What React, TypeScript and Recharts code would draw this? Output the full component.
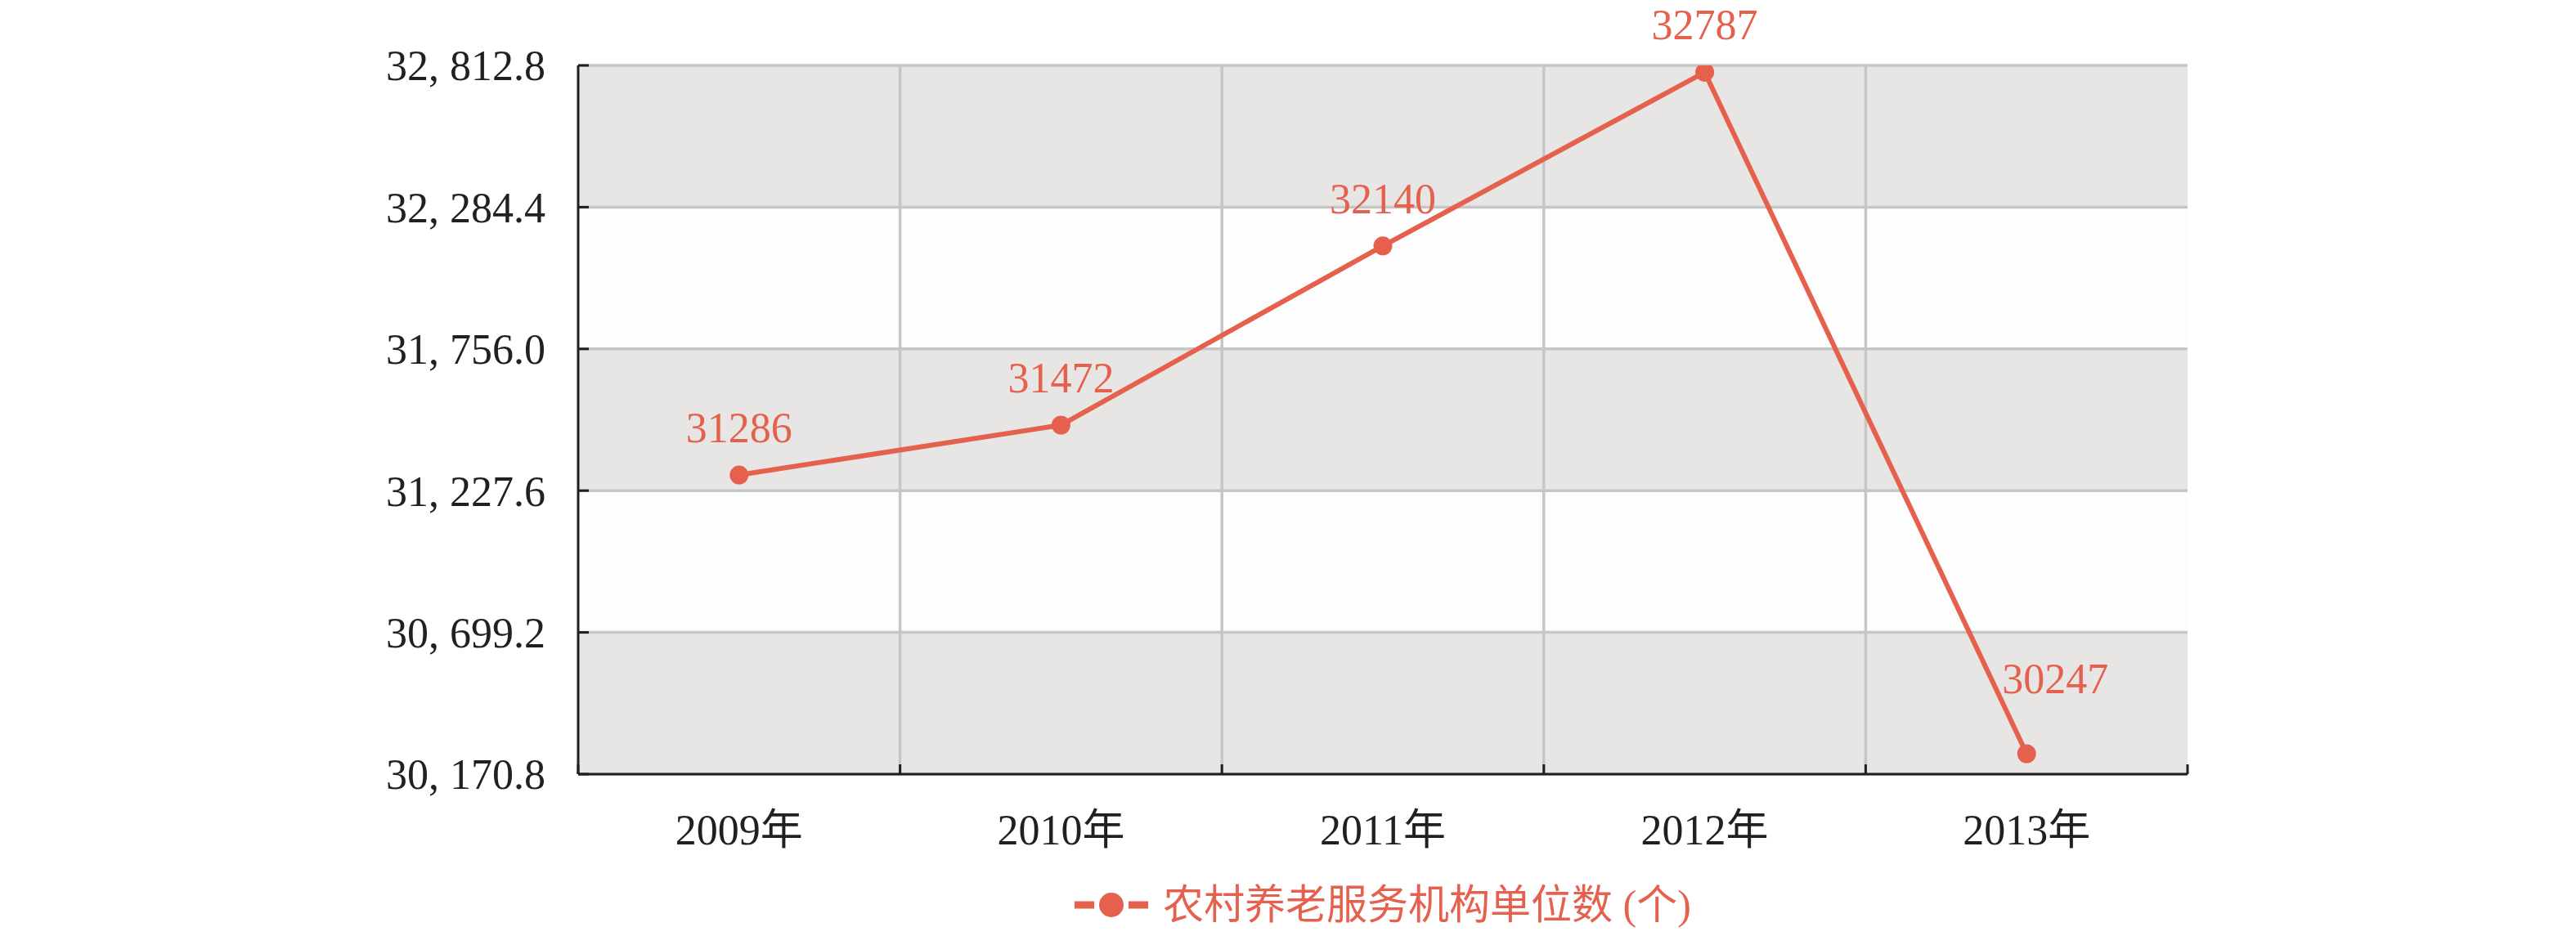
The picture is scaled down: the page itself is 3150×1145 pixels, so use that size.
import React from 'react';
import {
    LineChart,
    Line,
    XAxis,
    YAxis,
    CartesianGrid,
    Legend,
    LabelList
} from 'recharts';

const years = ['2009年', '2010年', '2011年', '2012年', '2013年'];
const institutions = [31286, 31472, 32140, 32787, 30247];
const yTicks = [30170.8, 30699.2, 31227.6, 31756.0, 32284.4, 32812.8];
const seriesName = '农村养老服务机构单位数 (个)';

const RED = '#e5604d';
const INK = '#231f20';
const FONT = "'Liberation Serif', 'Noto Sans CJK SC', serif";
const X_TICK_GAP = 49; // default tickSize 6 + tickMargin 43

const chartData = years.map((year, i) => ({
    year,
    value: institutions[i]
}));

// "32812.8" -> "32, 812.8"
const formatY = (v: number) => {
    const s = v.toFixed(1);
    return s.slice(0, s.length - 5) + ', ' + s.slice(s.length - 5);
};

// inner category boundaries for the vertical grid
const boundaryLines = ({ offset }: any) =>
    years.slice(1).map((_, i) => offset.left + (i + 1) * offset.width / years.length);

// label plus the little tick marks that sit on the category boundaries
const YearTick = (props: any) => {
    const { x, y, payload, index, visibleTicksCount } = props;
    const half = payload.offset || 0;
    const axisY = y - X_TICK_GAP;
    const last = index === visibleTicksCount - 1;
    return (
        <g>
            <line x1={x - half} x2={x - half} y1={axisY} y2={axisY - 12} stroke={INK} strokeWidth={3} />
            {last && <line x1={x + half} x2={x + half} y1={axisY} y2={axisY - 12} stroke={INK} strokeWidth={3} />}
            <text x={x} y={y} dy="0.71em" textAnchor="middle" fill={INK} fontSize={52} fontFamily={FONT}>
                {payload.value}
            </text>
        </g>
    );
};

const PointLabel = (props: any) => {
    const { x, y, value, index } = props;
    const last = index === institutions.length - 1;
    return (
        <text
            x={x + (last ? 35 : 0)}
            y={y - (last ? 74 : 40)}
            textAnchor="middle"
            fill={RED}
            fontSize={52}
            fontFamily={FONT}
        >
            {value}
        </text>
    );
};

const LegendContent = () => (
    <div style={{ height: 118, paddingTop: 52, boxSizing: 'border-box', display: 'flex', justifyContent: 'center' }}>
        <div style={{ display: 'flex', alignItems: 'center', height: 56 }}>
            <svg width={90} height={40} style={{ marginRight: 18 }}>
                <rect x={0} y={15.5} width={24} height={9} fill={RED} />
                <circle cx={45} cy={20} r={15} fill={RED} />
                <rect x={66} y={15.5} width={24} height={9} fill={RED} />
            </svg>
            <span style={{ color: RED, fontSize: 50, fontFamily: FONT, lineHeight: '56px' }}>{seriesName}</span>
        </div>
    </div>
);

const App = () => {
    return (
        <div style={{ width: 3150, height: 1145, background: '#fff' }}>
            <style>{'body { margin: 0; }'}</style>
            <LineChart
                width={3150}
                height={1145}
                data={chartData}
                margin={{ top: 80, right: 475, bottom: 0, left: 507 }}
            >
                <CartesianGrid
                    stroke="#c6c6c6"
                    strokeWidth={3.5}
                    horizontalFill={['#e7e6e4', '#fdfdfd']}
                    fillOpacity={1}
                    verticalCoordinatesGenerator={boundaryLines}
                />
                <XAxis
                    dataKey="year"
                    scale="band"
                    height={80}
                    axisLine={{ stroke: INK, strokeWidth: 3 }}
                    tickLine={false}
                    tickMargin={43}
                    tick={<YearTick />}
                    interval={0}
                />
                <YAxis
                    domain={[yTicks[0], yTicks[yTicks.length - 1]]}
                    ticks={yTicks}
                    allowDataOverflow
                    width={200}
                    tickFormatter={formatY}
                    axisLine={{ stroke: INK, strokeWidth: 3 }}
                    tickLine={{ stroke: INK, strokeWidth: 3 }}
                    tickSize={-13}
                    tickMargin={53}
                    tick={{ fontSize: 52, fill: INK, fontFamily: FONT }}
                />
                <Legend
                    verticalAlign="bottom"
                    content={<LegendContent />}
                    wrapperStyle={{ left: 707, width: 1968 }}
                />
                <Line
                    type="linear"
                    dataKey="value"
                    name={seriesName}
                    stroke={RED}
                    strokeWidth={6}
                    dot={{ r: 11.5, fill: RED, stroke: RED, strokeWidth: 0 }}
                    activeDot={false}
                    isAnimationActive={false}
                >
                    <LabelList dataKey="value" content={<PointLabel />} />
                </Line>
            </LineChart>
        </div>
    );
};

export default App;
